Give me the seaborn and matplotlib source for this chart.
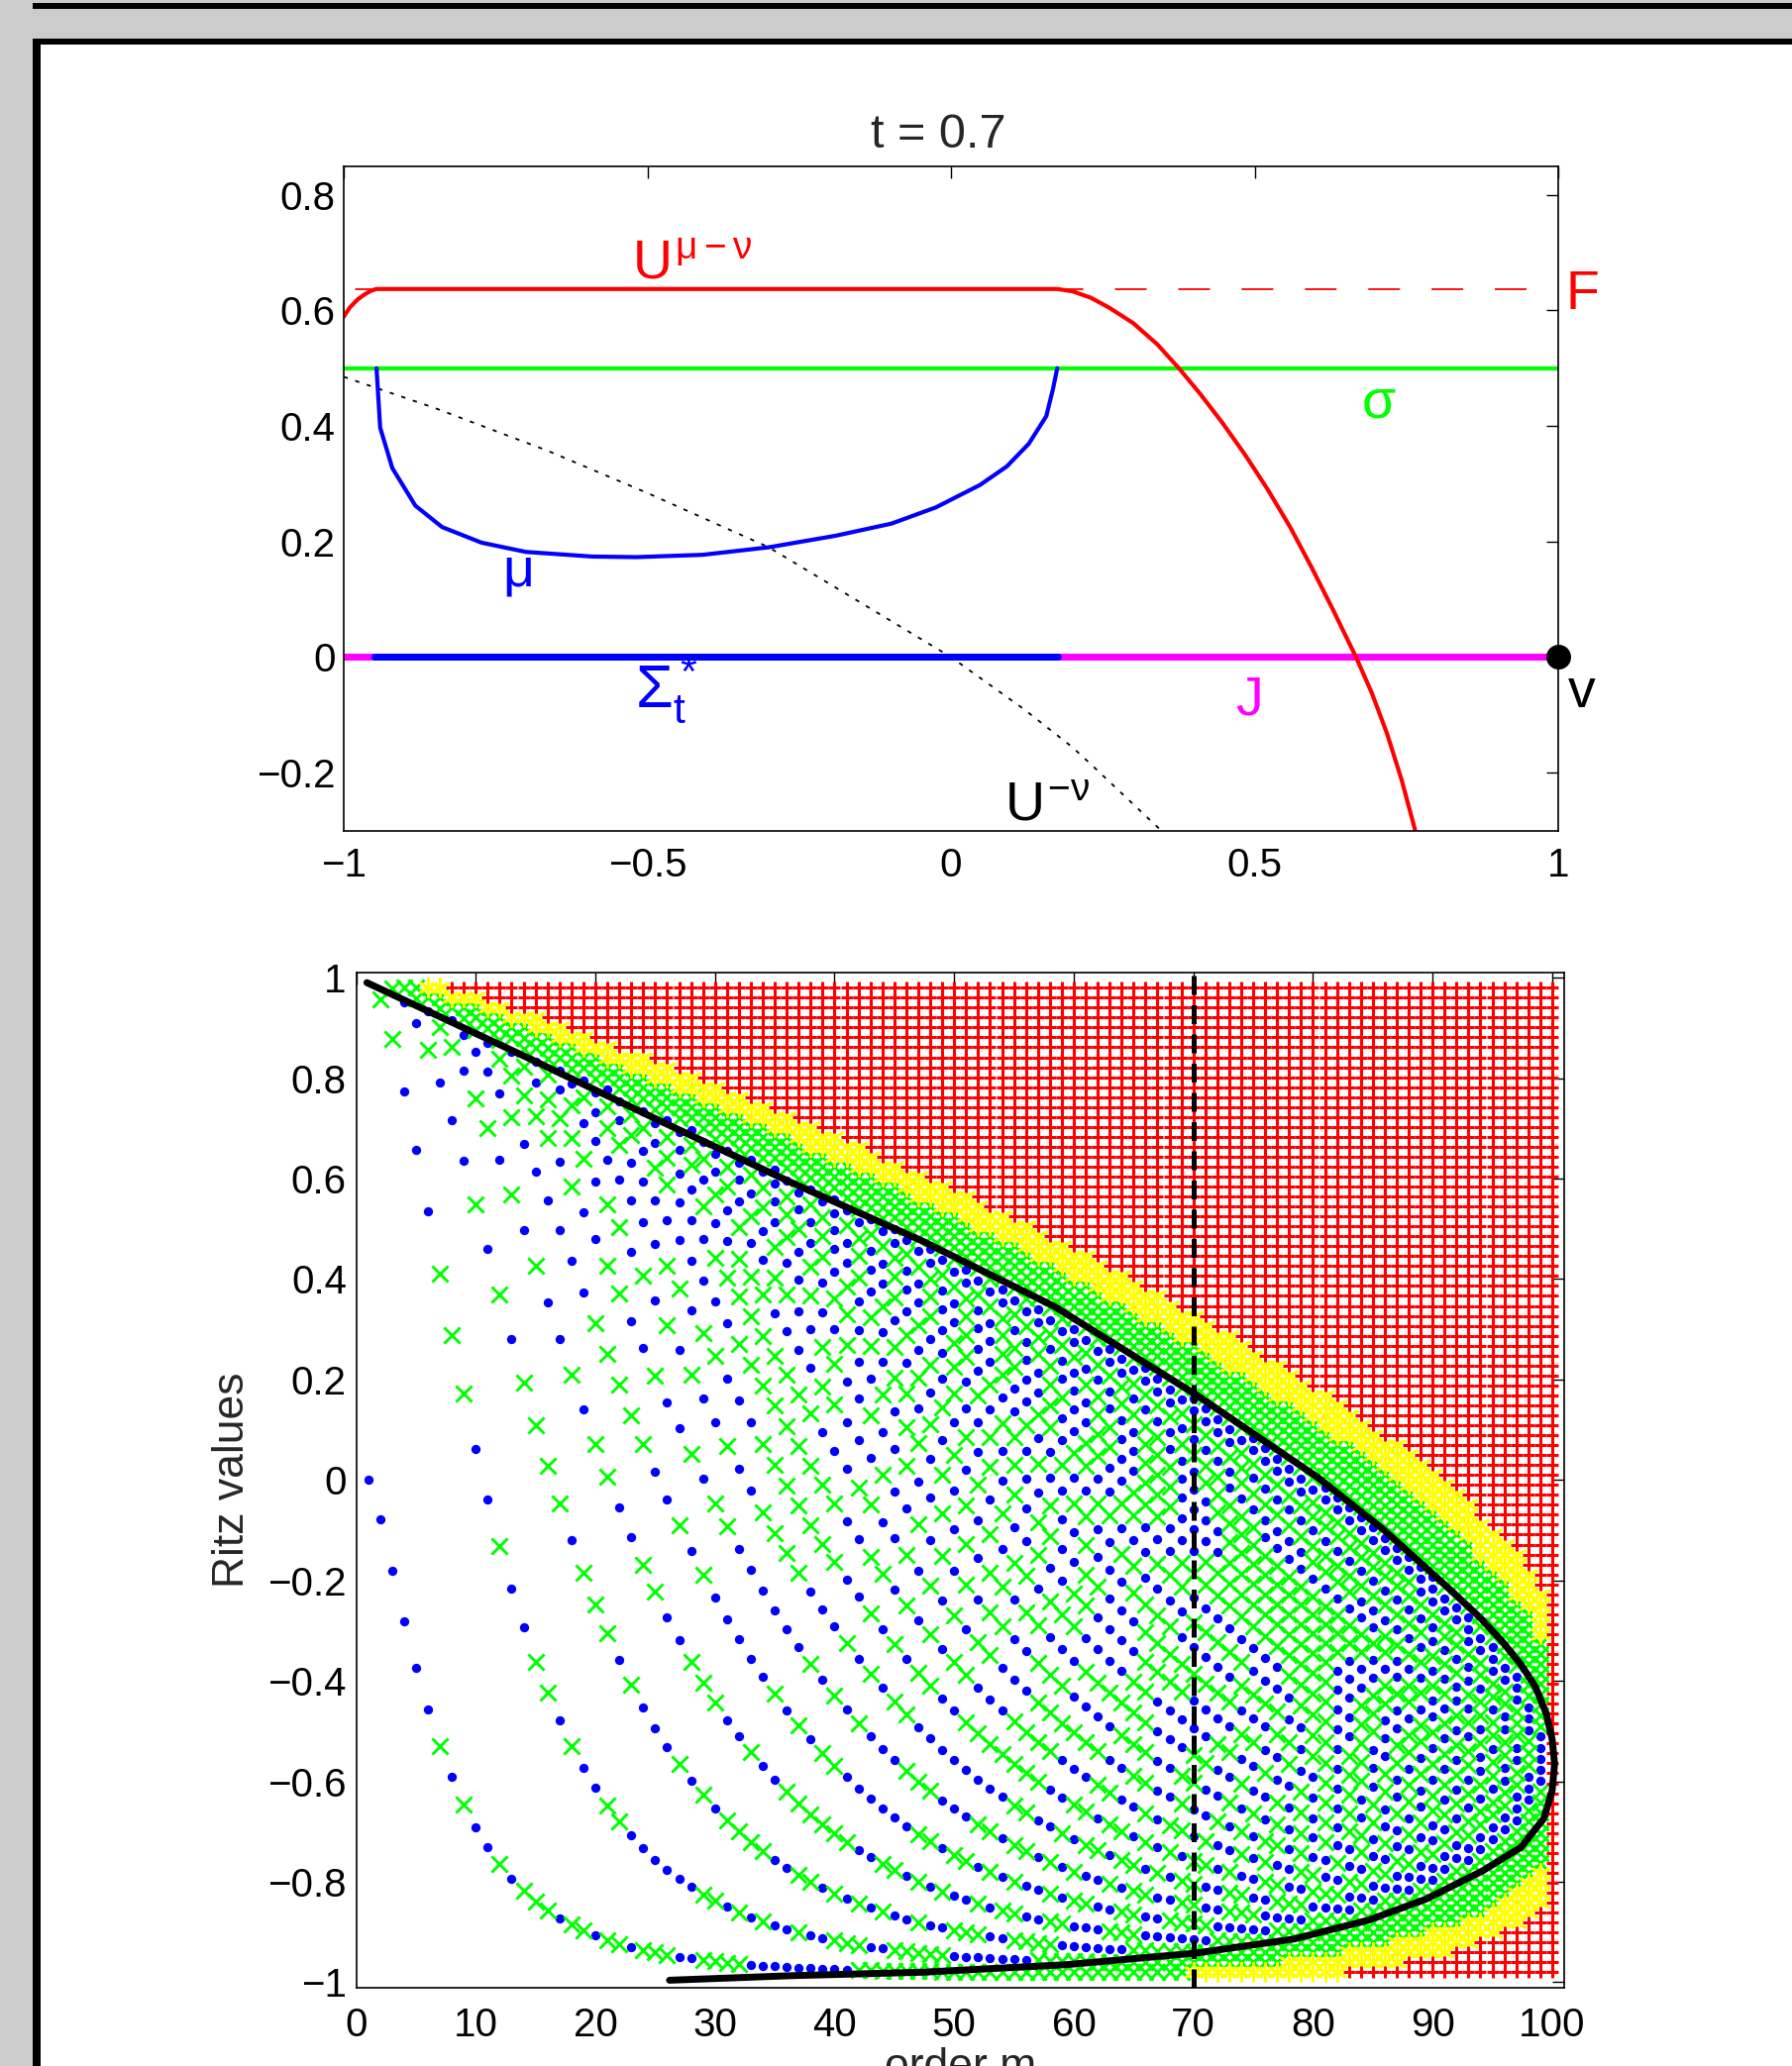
import numpy as np
import pandas as pd
import matplotlib
matplotlib.use("Agg")
import matplotlib.pyplot as plt
import seaborn as sns
from matplotlib.patches import Rectangle

# ---------------- upper panel: potentials at t = 0.7
t_value = 0.7
F_level = 0.637
sigma_level = 0.5

mu_x = [-0.946, -0.940, -0.920, -0.882, -0.838, -0.773, -0.700, -0.591, -0.518, -0.409,
        -0.300, -0.190, -0.098, -0.025, 0.048, 0.092, 0.128, 0.157, 0.168, 0.175]
mu_y = [0.500, 0.397, 0.327, 0.262, 0.225, 0.198, 0.182, 0.174, 0.173, 0.177,
        0.190, 0.210, 0.231, 0.259, 0.298, 0.330, 0.369, 0.417, 0.464, 0.500]

pot_x = [-1.0, -0.99, -0.977, -0.965, -0.955, -0.946, 0.0, 0.175, 0.20, 0.23, 0.26, 0.30,
         0.34, 0.376, 0.41, 0.448, 0.485, 0.521, 0.558, 0.594, 0.63, 0.667, 0.693, 0.718,
         0.742, 0.765]
pot_y = [0.589, 0.605, 0.619, 0.628, 0.634, 0.637, 0.637, 0.637, 0.633, 0.622, 0.605, 0.578,
         0.541, 0.499, 0.456, 0.404, 0.349, 0.291, 0.226, 0.155, 0.080, 0.000, -0.062, -0.132,
         -0.212, -0.302]

ext_x = [-1.0, -0.85, -0.664, -0.5, -0.3, 0.0, 0.12, 0.2, 0.23, 0.346, 0.36]
ext_y = [0.485, 0.431, 0.357, 0.284, 0.19, 0.0, -0.09, -0.156, -0.185, -0.3, -0.31]

sigma_star = [-0.949, 0.176]

top_xticks = [-1, -0.5, 0, 0.5, 1]
top_xlabels = ["\u22121", "\u22120.5", "0", "0.5", "1"]
top_yticks = [-0.2, 0, 0.2, 0.4, 0.6, 0.8]
top_ylabels = ["\u22120.2", "0", "0.2", "0.4", "0.6", "0.8"]

# ---------------- lower panel: rational Ritz values, pole at 1
n_eig = 100
eigenvalues = np.linspace(-0.98, 0.98, n_eig)
start_vector = np.ones(n_eig)
pole = 1.0
tol_red, tol_yellow, tol_green = 1e-10, 1e-6, 5e-3

bound_m = [0.9, 14.3, 25.3, 36.3, 47.4, 58.4, 70.2, 80.4, 85.9, 91.4, 94.0, 95.8, 97.4,
           98.6, 99.5, 100.0, 100.2, 100.0, 99.3, 97.4, 94.2, 89.5, 84.7, 78.4, 70.2, 59.4,
           47.4, 36.3, 26.2]
bound_y = [0.990, 0.841, 0.716, 0.593, 0.475, 0.345, 0.170, 0.005, -0.099, -0.217, -0.275,
           -0.321, -0.368, -0.412, -0.465, -0.517, -0.565, -0.618, -0.674, -0.731, -0.778,
           -0.834, -0.876, -0.914, -0.942, -0.965, -0.980, -0.987, -0.996]

bot_xticks = list(range(0, 101, 10))
bot_yticks = [-1, -0.8, -0.6, -0.4, -0.2, 0, 0.2, 0.4, 0.6, 0.8, 1]
bot_ylabels = ["\u22121", "\u22120.8", "\u22120.6", "\u22120.4", "\u22120.2", "0",
               "0.2", "0.4", "0.6", "0.8", "1"]


def rational_ritz(lam, b, s, m_max):
    r = 1.0 / (lam - s)
    Q = np.zeros((len(lam), m_max))
    q = b / np.linalg.norm(b)
    rows = []
    for m in range(m_max):
        Q[:, m] = q
        V = Q[:, :m + 1]
        T = V.T @ (lam[:, None] * V)
        for th in np.linalg.eigvalsh(T):
            rows.append((m + 1, th))
        w = r * q
        for _ in range(2):
            w = w - V @ (V.T @ w)
        nw = np.linalg.norm(w)
        if nw == 0:
            break
        q = w / nw
    return pd.DataFrame(rows, columns=["order", "ritz"])


ritz = rational_ritz(eigenvalues, start_vector, pole, n_eig)
ritz["dist"] = np.abs(ritz["ritz"].to_numpy()[:, None] - eigenvalues[None, :]).min(axis=1)
ritz["kind"] = np.select([ritz["dist"] < tol_red, ritz["dist"] < tol_yellow,
                          ritz["dist"] < tol_green], ["red", "yellow", "green"], "blue")

# ---------------- style
sns.set_theme(style="white")
plt.rcParams["font.family"] = ["Liberation Sans", "DejaVu Sans"]
plt.rcParams["mathtext.fontset"] = "custom"
plt.rcParams["mathtext.rm"] = "Liberation Sans"
plt.rcParams["mathtext.it"] = "Liberation Sans"
plt.rcParams["mathtext.bf"] = "Liberation Sans:bold"
plt.rcParams["axes.unicode_minus"] = True

W, H = 1809, 2086
fig = plt.figure(figsize=(W / 100, H / 100), dpi=100, facecolor="#cccccc")


def box(x0, y0, x1, y1, color):
    fig.add_artist(Rectangle((x0 / W, 1 - y1 / H), (x1 - x0) / W, (y1 - y0) / H,
                             transform=fig.transFigure, facecolor=color, lw=0, zorder=0))


box(33, 3, W, 9, "black")
box(33, 39, W, H, "black")
box(41, 45, W, H, "white")


def axes_px(x0, y0, x1, y1):
    return fig.add_axes([x0 / W, 1 - y1 / H, (x1 - x0) / W, (y1 - y0) / H])


def style_axes(ax):
    ax.set_facecolor("white")
    for sp in ax.spines.values():
        sp.set_color("black")
        sp.set_linewidth(1.2)
        sp.set_visible(True)
    ax.tick_params(direction="in", length=8.6, width=1.0, top=True, right=True,
                   labelsize=29, colors="black", pad=12)
    ax.tick_params(axis="y", pad=6)


# ---------------- upper axes
ax1 = axes_px(347, 167.5, 1573, 838.5)
style_axes(ax1)

ax1.plot([-1, 1], [F_level, F_level], color="red", lw=1.3, linestyle=(29, (17.7, 17.7)))
sns.lineplot(x=ext_x, y=ext_y, sort=False, estimator=None, color="black", lw=1.3,
             linestyle=(0, (2.4, 4.4)), ax=ax1)
sns.lineplot(x=[-1, 1], y=[sigma_level, sigma_level], color="#00ff00", lw=3.0, ax=ax1)
sns.lineplot(x=[-1, 1], y=[0, 0], color="#ff00ff", lw=5.0, ax=ax1)
sns.lineplot(x=sigma_star, y=[0, 0], color="blue", lw=5.0, ax=ax1)
sns.lineplot(x=mu_x, y=mu_y, sort=False, estimator=None, color="blue", lw=3.0, ax=ax1)
sns.lineplot(x=pot_x, y=pot_y, sort=False, estimator=None, color="red", lw=3.0, ax=ax1)
ax1.plot([1], [0], "o", color="black", markersize=17, clip_on=False, zorder=5)

ax1.set_xlim(-1, 1)
ax1.set_ylim(-0.3, 0.85)
ax1.set_xticks(top_xticks)
ax1.set_xticklabels(top_xlabels)
ax1.set_yticks(top_yticks)
ax1.set_yticklabels(top_ylabels)
ax1.set_xlabel("")
ax1.set_ylabel("")
ax1.text((947 - 347) / 1226, 1 + (167.5 - 149) / 671, "t = 0.7", transform=ax1.transAxes,
         ha="center", va="baseline", fontsize=35)

lab = dict(fontsize=40, ha="left", va="baseline", clip_on=False)
ax1.text(-0.525, 0.655, r"$U^{\mu-\nu}$", color="red", **lab)
ax1.text(1.013, 0.602, "F", color="red", **lab)
ax1.text(0.676, 0.414, "\u03c3", color="#00ff00", **lab)
ax1.text(-0.738, 0.124, "\u03bc", color="blue", **lab)
ax1.text(-0.520, -0.088, r"$\Sigma_t^*$", color="blue", fontsize=44, ha="left",
         va="baseline")
ax1.text(0.468, -0.100, "J", color="#ff00ff", **lab)
ax1.text(1.016, -0.087, "v", color="black", **lab)
ax1.text(0.088, -0.282, r"$U^{-\nu}$", color="black", **lab)

# ---------------- lower axes
ax2 = axes_px(359.5, 982, 1579, 2006.5)
style_axes(ax2)

kinds = {
    "blue": dict(marker="o", s=45, color="blue", linewidth=0),
    "green": dict(marker="x", s=135, color="#00ff00", linewidth=2.1),
    "yellow": dict(marker=(6, 2, 0), s=170, color="yellow", linewidth=2.0),
    "red": dict(marker="+", s=80, color="red", linewidth=2.2),
}
for k, kw in kinds.items():
    sub = ritz[ritz["kind"] == k]
    sns.scatterplot(data=sub, x="order", y="ritz", ax=ax2, legend=False, **kw)

sns.lineplot(x=bound_m, y=bound_y, sort=False, estimator=None, color="black", lw=5.0, ax=ax2)
ax2.axvline(t_value * n_eig, color="black", lw=3.6, linestyle=(0, (3.8, 2.1)))

ax2.set_xlim(0, 101)
ax2.set_ylim(-1.01, 1.01)
ax2.set_xticks(bot_xticks)
ax2.set_xticklabels([str(v) for v in bot_xticks])
ax2.set_yticks(bot_yticks)
ax2.set_yticklabels(bot_ylabels)
ax2.tick_params(axis="x", pad=14)
ax2.tick_params(axis="y", pad=7)
ax2.set_xlabel("order m", fontsize=32, labelpad=2)
ax2.set_ylabel("Ritz values", fontsize=32, labelpad=11)

fig.savefig("out.png", dpi=100, facecolor=fig.get_facecolor())
